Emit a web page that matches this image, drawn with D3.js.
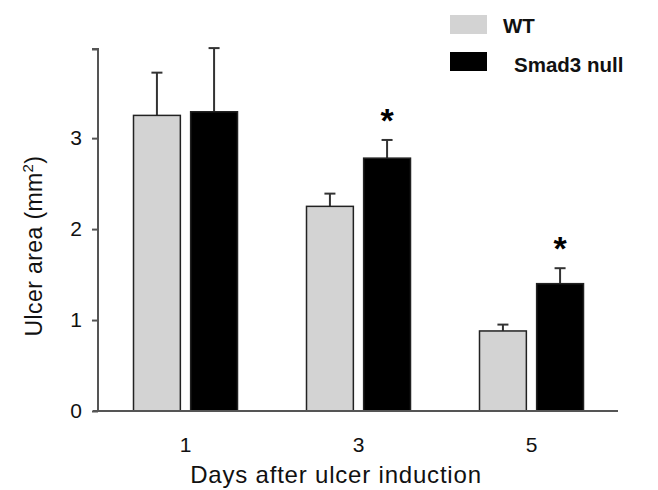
<!DOCTYPE html>
<html>
<head>
<meta charset="utf-8">
<script src="https://cdn.jsdelivr.net/npm/d3@7"></script>
<style>
  body { margin: 0; background: #fff; }
  text { font-family: "Liberation Sans", Arial, sans-serif; }
</style>
</head>
<body>
<svg id="chart" width="658" height="490"></svg>
<script>
// data
const days = ["1", "3", "5"];
const groups = ["WT", "Smad3 null"];
const meanWT = [3.25, 2.25, 0.88];
const errWT = [0.47, 0.14, 0.07];
const meanNull = [3.29, 2.78, 1.40];
const errNull = [0.70, 0.20, 0.17];
const significant = [false, true, true];
const yTicks = [0, 1, 2, 3];

const colors = { "WT": "#d3d3d3", "Smad3 null": "#000" };

const svg = d3.select("#chart");

const y = d3.scaleLinear().domain([0, 3.98]).range([411, 49]);
const x0 = d3.scaleBand().domain(days).range([99, 618]);
const x1 = d3.scaleBand().domain(groups).range([-52, 52]).paddingInner(0.18);

const rows = [];
days.forEach((d, i) => {
  rows.push({ day: d, group: "WT", mean: meanWT[i], err: errWT[i], star: false });
  rows.push({ day: d, group: "Smad3 null", mean: meanNull[i], err: errNull[i], star: significant[i] });
});

const cx = r => x0(r.day) + x0.bandwidth() / 2 + x1(r.group);

// error bars (drawn first, bars cover the lower half)
const eb = svg.append("g").attr("stroke", "#333").attr("stroke-width", 2);
rows.forEach(r => {
  const mx = cx(r) + x1.bandwidth() / 2;
  eb.append("line").attr("x1", mx).attr("x2", mx)
    .attr("y1", y(r.mean)).attr("y2", y(r.mean + r.err));
  eb.append("line").attr("x1", mx - 5.5).attr("x2", mx + 5.5)
    .attr("y1", y(r.mean + r.err)).attr("y2", y(r.mean + r.err));
});

// bars
svg.append("g").selectAll("rect")
  .data(rows)
  .enter()
  .append("rect")
  .attr("x", d => cx(d))
  .attr("y", d => y(d.mean))
  .attr("width", x1.bandwidth())
  .attr("height", d => y(0) - y(d.mean))
  .attr("fill", d => colors[d.group])
  .attr("stroke", "#222")
  .attr("stroke-width", 1.5);

// asterisks
svg.append("g").selectAll("text")
  .data(rows.filter(d => d.star))
  .enter()
  .append("text")
  .attr("x", d => cx(d) + x1.bandwidth() / 2)
  .attr("y", d => y(d.mean + d.err) - 8)
  .attr("text-anchor", "middle")
  .attr("font-size", "34px")
  .attr("font-weight", "bold")
  .text("*");

// y axis
const yAxis = svg.append("g")
  .attr("transform", "translate(98,0)")
  .call(d3.axisLeft(y).tickValues(yTicks.concat([3.98])).tickSize(6).tickPadding(10)
    .tickFormat(v => yTicks.includes(v) ? d3.format("d")(v) : ""));
yAxis.select(".domain").attr("stroke", "#555").attr("stroke-width", 2).attr("d", "M-6,49H0V411");
yAxis.selectAll(".tick line").attr("stroke", "#555").attr("stroke-width", 2);
yAxis.selectAll(".tick text").attr("font-size", "21px").attr("fill", "#111");

// x axis baseline
svg.append("line")
  .attr("x1", 93).attr("x2", 618)
  .attr("y1", y(0)).attr("y2", y(0))
  .attr("stroke", "#555").attr("stroke-width", 2);

// x labels
svg.append("g").selectAll("text")
  .data(days)
  .enter()
  .append("text")
  .attr("x", d => x0(d) + x0.bandwidth() / 2)
  .attr("y", 452)
  .attr("text-anchor", "middle")
  .attr("font-size", "21px")
  .attr("fill", "#111")
  .text(d => d);

// axis titles
svg.append("text")
  .attr("x", 336).attr("y", 483)
  .attr("text-anchor", "middle")
  .attr("font-size", "24px")
  .attr("letter-spacing", "0.8px")
  .attr("fill", "#111")
  .text("Days after ulcer induction");

const yt = svg.append("text")
  .attr("transform", "translate(42,246) rotate(-90)")
  .attr("text-anchor", "middle")
  .attr("font-size", "23px")
  .attr("letter-spacing", "0.4px")
  .attr("fill", "#111");
yt.append("tspan").text("Ulcer area (mm");
yt.append("tspan").attr("font-size", "15px").attr("dy", -9).text("2");
yt.append("tspan").attr("dy", 9).text(")");

// legend
const legend = svg.append("g");
groups.forEach((g, i) => {
  legend.append("rect")
    .attr("x", 450).attr("y", 15 + i * 37)
    .attr("width", 37).attr("height", 19)
    .attr("fill", colors[g]);
  legend.append("text")
    .attr("x", i === 0 ? 503 : 514).attr("y", 33 + i * 39)
    .attr("font-size", "20.5px")
    .attr("font-weight", "bold")
    .attr("fill", "#111")
    .text(g);
});
</script>
</body>
</html>
